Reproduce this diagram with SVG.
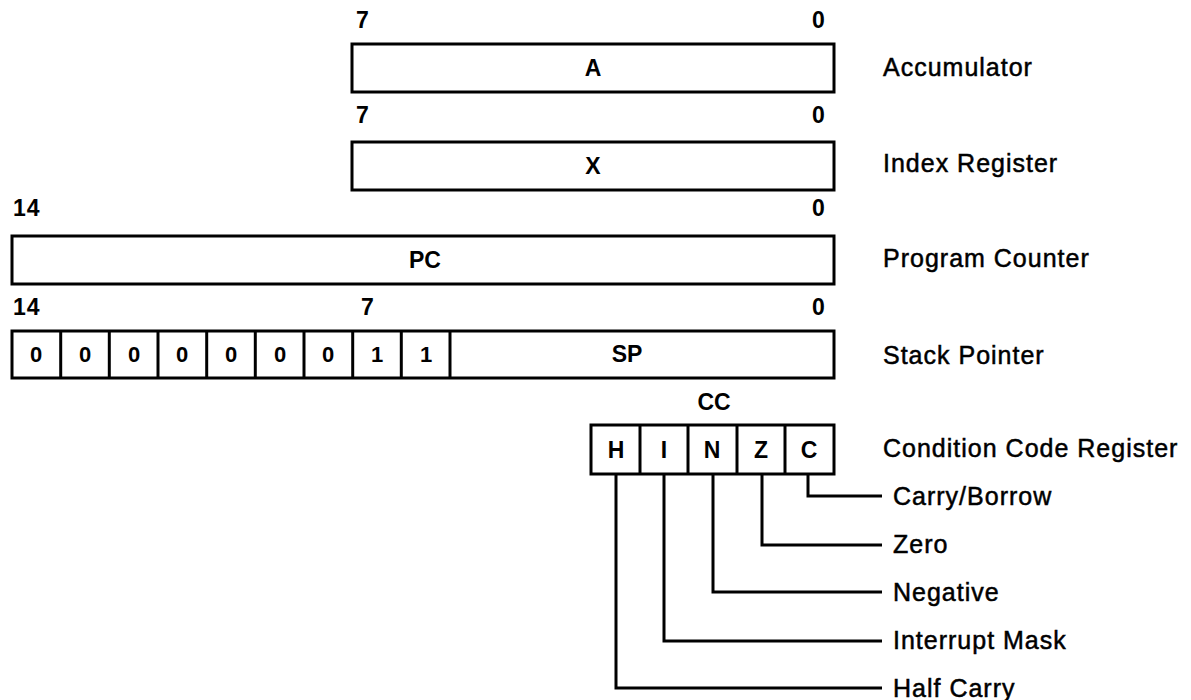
<svg xmlns="http://www.w3.org/2000/svg" width="1191" height="700" viewBox="0 0 1191 700">
  <style>
    .box { fill: #fff; stroke: #000; stroke-width: 3; }
    .div { stroke: #000; stroke-width: 3; }
    .wire { fill: none; stroke: #000; stroke-width: 3; }
    text { font-family: "Liberation Sans", Arial, sans-serif; fill: #000; }
    .bit { font-size: 23px; font-weight: bold; letter-spacing: 1px; }
    .reg { font-size: 23px; font-weight: bold; text-anchor: middle; }
    .cell { font-size: 22px; font-weight: bold; text-anchor: middle; }
    .name { font-size: 25px; letter-spacing: 1px; stroke: #000; stroke-width: 0.5px; }
  </style>
  <rect width="1191" height="700" fill="#fff"/>

  <!-- Accumulator -->
  <g id="acc">
    <text class="bit" x="356" y="28">7</text>
    <text class="bit" x="812" y="28">0</text>
    <rect class="box" x="352" y="44" width="482" height="48"/>
    <text class="reg" x="593" y="76">A</text>
    <text class="name" x="883" y="76">Accumulator</text>
  </g>

  <!-- Index register -->
  <g id="index">
    <text class="bit" x="356" y="123">7</text>
    <text class="bit" x="812" y="123">0</text>
    <rect class="box" x="352" y="142" width="482" height="48"/>
    <text class="reg" x="593" y="174">X</text>
    <text class="name" x="883" y="172">Index Register</text>
  </g>

  <!-- Program counter -->
  <g id="pc">
    <text class="bit" x="13" y="216">14</text>
    <text class="bit" x="812" y="216">0</text>
    <rect class="box" x="12" y="236" width="822" height="48"/>
    <text class="reg" x="425" y="268">PC</text>
    <text class="name" x="883" y="267">Program Counter</text>
  </g>

  <!-- Stack pointer -->
  <g id="sp">
    <text class="bit" x="13" y="315">14</text>
    <text class="bit" x="361" y="315">7</text>
    <text class="bit" x="812" y="315">0</text>
    <rect class="box" x="12" y="331" width="822" height="47"/>
    <line class="div" x1="60.7" y1="331" x2="60.7" y2="378"/>
    <line class="div" x1="109.3" y1="331" x2="109.3" y2="378"/>
    <line class="div" x1="158" y1="331" x2="158" y2="378"/>
    <line class="div" x1="206.7" y1="331" x2="206.7" y2="378"/>
    <line class="div" x1="255.3" y1="331" x2="255.3" y2="378"/>
    <line class="div" x1="304" y1="331" x2="304" y2="378"/>
    <line class="div" x1="352.7" y1="331" x2="352.7" y2="378"/>
    <line class="div" x1="401.3" y1="331" x2="401.3" y2="378"/>
    <line class="div" x1="450" y1="331" x2="450" y2="378"/>
    <text class="cell" x="36" y="362">0</text>
    <text class="cell" x="85" y="362">0</text>
    <text class="cell" x="134" y="362">0</text>
    <text class="cell" x="182" y="362">0</text>
    <text class="cell" x="231" y="362">0</text>
    <text class="cell" x="280" y="362">0</text>
    <text class="cell" x="328" y="362">0</text>
    <text class="cell" x="377" y="362">1</text>
    <text class="cell" x="426" y="362">1</text>
    <text class="reg" x="627" y="362">SP</text>
    <text class="name" x="883" y="364">Stack Pointer</text>
  </g>

  <!-- Condition code register -->
  <g id="ccr">
    <text class="reg" x="714" y="410">CC</text>
    <rect class="box" x="591" y="425" width="243" height="49"/>
    <line class="div" x1="640" y1="425" x2="640" y2="474"/>
    <line class="div" x1="688" y1="425" x2="688" y2="474"/>
    <line class="div" x1="737" y1="425" x2="737" y2="474"/>
    <line class="div" x1="785" y1="425" x2="785" y2="474"/>
    <text class="reg" x="616" y="458">H</text>
    <text class="reg" x="664" y="458">I</text>
    <text class="reg" x="712" y="458">N</text>
    <text class="reg" x="761" y="458">Z</text>
    <text class="reg" x="809" y="458">C</text>
    <text class="name" x="883" y="457">Condition Code Register</text>
  </g>

  <!-- Flag labels -->
  <g id="flag-c"><text class="name" x="893" y="505">Carry/Borrow</text></g>
  <g id="flag-z"><text class="name" x="893" y="553">Zero</text></g>
  <g id="flag-n"><text class="name" x="893" y="601">Negative</text></g>
  <g id="flag-i"><text class="name" x="893" y="649">Interrupt Mask</text></g>
  <g id="flag-h"><text class="name" x="893" y="697">Half Carry</text></g>

  <!-- Flag leader lines -->
  <g id="connectors">
    <polyline class="wire" points="808,474 808,496 882,496"/>
    <polyline class="wire" points="762,474 762,545 882,545"/>
    <polyline class="wire" points="713,474 713,592 882,592"/>
    <polyline class="wire" points="664,474 664,641 882,641"/>
    <polyline class="wire" points="616,474 616,688 882,688"/>
  </g>
</svg>
